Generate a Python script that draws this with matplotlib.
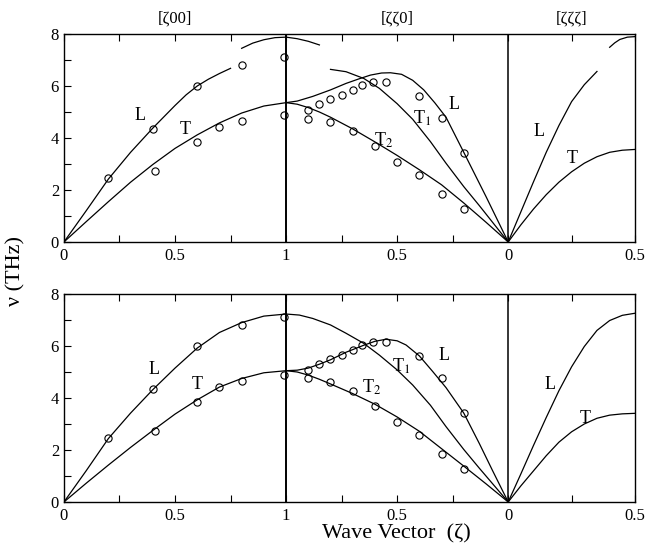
import numpy as np
import matplotlib
matplotlib.use("Agg")
from matplotlib import pyplot as plt

plt.rcParams['font.family'] = ['Liberation Serif', 'DejaVu Serif']
plt.rcParams['mathtext.fontset'] = 'stix'

# x axis: [zeta00] 0->1, [zeta zeta 0] 1->0, [zeta zeta zeta] 0->0.5
K111 = 1.142

# experimental points (same in both panels)
exp100_L_z = [0.2, 0.4, 0.6, 0.8, 0.99]
exp100_L_v = [2.48, 4.36, 5.99, 6.81, 7.12]
exp100_T_z = [0.41, 0.6, 0.7, 0.8, 0.99]
exp100_T_v = [2.72, 3.85, 4.41, 4.66, 4.87]
exp110_L_z = [0.9, 0.85, 0.8, 0.75, 0.7, 0.66, 0.61, 0.55, 0.4, 0.3, 0.2]
exp110_L_v = [5.08, 5.3, 5.49, 5.64, 5.84, 6.05, 6.15, 6.15, 5.63, 4.77, 3.44]
exp110_T2_z = [0.9, 0.8, 0.7, 0.6, 0.5, 0.4, 0.3, 0.2]
exp110_T2_v = [4.75, 4.62, 4.26, 3.69, 3.08, 2.57, 1.86, 1.28]

# ---- top panel, calculated curves ----
top100_L_z = [0, 0.1, 0.2, 0.3, 0.4, 0.5, 0.55, 0.6, 0.65, 0.7, 0.75]
top100_L_v = [0, 1.2, 2.42, 3.45, 4.38, 5.25, 5.66, 6.0, 6.26, 6.48, 6.68]
top100_Lhi_z = [0.8, 0.85, 0.9, 0.95, 1.0]
top100_Lhi_v = [7.45, 7.65, 7.78, 7.86, 7.88]
top110_Lhi_z = [1.0, 0.95, 0.9, 0.85]
top110_Lhi_v = [7.88, 7.82, 7.72, 7.58]
top100_T_z = [0, 0.1, 0.2, 0.3, 0.4, 0.5, 0.6, 0.7, 0.8, 0.9, 1.0]
top100_T_v = [0, 0.78, 1.55, 2.3, 2.98, 3.6, 4.12, 4.58, 4.96, 5.23, 5.36]
top110_L_z = [1, 0.95, 0.88, 0.8, 0.73, 0.67, 0.62, 0.57, 0.53, 0.48, 0.43, 0.38, 0.33, 0.28, 0.2, 0.1, 0]
top110_L_v = [5.36, 5.42, 5.6, 5.85, 6.1, 6.28, 6.42, 6.5, 6.51, 6.45, 6.22, 5.85, 5.35, 4.8, 3.45, 1.75, 0]
top110_T1_z = [0.8, 0.73, 0.65, 0.58, 0.5, 0.43, 0.35, 0.28, 0.2, 0.13, 0]
top110_T1_v = [6.64, 6.55, 6.29, 5.91, 5.32, 4.72, 3.86, 3.03, 2.13, 1.4, 0]
top110_T2_z = [1, 0.95, 0.9, 0.85, 0.8, 0.7, 0.6, 0.5, 0.4, 0.3, 0.2, 0.1, 0]
top110_T2_v = [5.36, 5.3, 5.17, 5.0, 4.8, 4.35, 3.85, 3.33, 2.78, 2.2, 1.5, 0.76, 0]
top111_L_z = [0, 0.05, 0.1, 0.15, 0.2, 0.25, 0.3, 0.35]
top111_L_v = [0, 1.16, 2.32, 3.45, 4.48, 5.4, 6.05, 6.56]
top111_Lhi_z = [0.4, 0.42, 0.44, 0.47, 0.5]
top111_Lhi_v = [7.49, 7.66, 7.79, 7.88, 7.9]
top111_T_z = [0, 0.05, 0.1, 0.15, 0.2, 0.25, 0.3, 0.35, 0.4, 0.45, 0.5]
top111_T_v = [0, 0.66, 1.27, 1.82, 2.3, 2.7, 3.03, 3.28, 3.45, 3.53, 3.56]

# ---- bottom panel, calculated curves ----
bot100_L_z = [0, 0.1, 0.2, 0.3, 0.4, 0.5, 0.6, 0.7, 0.8, 0.9, 1.0]
bot100_L_v = [0, 1.2, 2.44, 3.42, 4.32, 5.15, 5.92, 6.52, 6.9, 7.15, 7.23]
bot100_T_z = [0, 0.1, 0.2, 0.3, 0.4, 0.5, 0.6, 0.7, 0.8, 0.9, 1.0]
bot100_T_v = [0, 0.72, 1.42, 2.1, 2.75, 3.38, 3.93, 4.42, 4.75, 4.97, 5.05]
bot110_T1_z = [1, 0.94, 0.88, 0.8, 0.73, 0.65, 0.58, 0.5, 0.43, 0.35, 0.28, 0.2, 0.13, 0]
bot110_T1_v = [7.23, 7.19, 7.06, 6.81, 6.49, 6.10, 5.65, 5.08, 4.5, 3.72, 2.9, 2.02, 1.3, 0]
bot110_L_z = [1, 0.95, 0.9, 0.85, 0.8, 0.73, 0.65, 0.6, 0.55, 0.5, 0.46, 0.4, 0.34, 0.28, 0.2, 0.13, 0.07, 0]
bot110_L_v = [5.05, 5.07, 5.15, 5.3, 5.47, 5.76, 6.03, 6.18, 6.26, 6.2, 6.04, 5.62, 5.02, 4.4, 3.42, 2.25, 1.2, 0]
bot110_T2_z = [1, 0.95, 0.9, 0.85, 0.8, 0.7, 0.6, 0.5, 0.4, 0.3, 0.2, 0.1, 0]
bot110_T2_v = [5.05, 5.0, 4.88, 4.72, 4.54, 4.17, 3.76, 3.27, 2.72, 2.05, 1.38, 0.7, 0]
bot111_L_z = [0, 0.05, 0.1, 0.15, 0.2, 0.25, 0.3, 0.35, 0.4, 0.45, 0.5]
bot111_L_v = [0, 1.08, 2.18, 3.25, 4.28, 5.2, 5.98, 6.6, 6.98, 7.18, 7.26]
bot111_T_z = [0, 0.05, 0.1, 0.15, 0.2, 0.25, 0.3, 0.35, 0.4, 0.45, 0.5]
bot111_T_v = [0, 0.62, 1.2, 1.78, 2.3, 2.7, 3.0, 3.22, 3.34, 3.39, 3.41]

dir_labels = ['[ζ00]', '[ζζ0]', '[ζζζ]']
xtick_labels = ['0', '0.5', '1', '0.5', '0', '0.5']

# branch labels: (text, segment, zeta, v)
top_labels = [('L', 0, 0.344, 4.88), ('T', 0, 0.547, 4.31),
              ('L', 1, 0.246, 5.27), ('T$_1$', 1, 0.389, 4.76), ('T$_2$', 1, 0.562, 3.92),
              ('L', 2, 0.123, 4.24), ('T', 2, 0.254, 3.22)]
bot_labels = [('L', 0, 0.404, 5.08), ('T', 0, 0.6, 4.5),
              ('L', 1, 0.291, 5.65), ('T$_1$', 1, 0.48, 5.2), ('T$_2$', 1, 0.614, 4.43),
              ('L', 2, 0.165, 4.5), ('T', 2, 0.303, 3.22)]


def pos(seg, z):
    z = np.asarray(z, dtype=float)
    if seg == 0:
        return z
    if seg == 1:
        return 2 - z
    return 2 + K111 * z


def curve(ax, seg, z, v):
    ax.plot(pos(seg, z), v, color='black', lw=0.9)


def points(ax, seg, z, v):
    ax.plot(pos(seg, z), v, 'o', ms=5.2, mfc='none', mec='black', mew=0.8)


def setup(ax):
    xmax = pos(2, 0.5)
    ax.set_xlim(0, xmax)
    ax.set_ylim(0, 8)
    ax.axvline(1, color='black', lw=1.4)
    ax.axvline(2, color='black', lw=1.1)
    ax.set_xticks([0, 0.5, 1, 1.5, 2, xmax])
    ax.set_xticklabels(xtick_labels)
    ax.set_xticks([0.25, 0.75, 1.25, 1.75, pos(2, 0.25)], minor=True)
    ax.set_yticks([0, 2, 4, 6, 8])
    ax.set_yticks([1, 3, 5, 7], minor=True)
    ax.tick_params(which='both', direction='in', top=True, right=False,
                   length=5, width=0.8, labelsize=12)
    ax.tick_params(axis='x', pad=4)
    for s in ax.spines.values():
        s.set_linewidth(1.0)


fig = plt.figure(figsize=(6.46, 5.54), dpi=100)
ax1 = fig.add_axes([0.099, 0.5632, 0.884, 0.3754])
ax2 = fig.add_axes([0.099, 0.0939, 0.884, 0.3754])

# top panel
curve(ax1, 0, top100_L_z, top100_L_v)
curve(ax1, 0, top100_Lhi_z, top100_Lhi_v)
curve(ax1, 1, top110_Lhi_z, top110_Lhi_v)
curve(ax1, 0, top100_T_z, top100_T_v)
curve(ax1, 1, top110_L_z, top110_L_v)
curve(ax1, 1, top110_T1_z, top110_T1_v)
curve(ax1, 1, top110_T2_z, top110_T2_v)
curve(ax1, 2, top111_L_z, top111_L_v)
curve(ax1, 2, top111_Lhi_z, top111_Lhi_v)
curve(ax1, 2, top111_T_z, top111_T_v)

# bottom panel
curve(ax2, 0, bot100_L_z, bot100_L_v)
curve(ax2, 0, bot100_T_z, bot100_T_v)
curve(ax2, 1, bot110_T1_z, bot110_T1_v)
curve(ax2, 1, bot110_L_z, bot110_L_v)
curve(ax2, 1, bot110_T2_z, bot110_T2_v)
curve(ax2, 2, bot111_L_z, bot111_L_v)
curve(ax2, 2, bot111_T_z, bot111_T_v)

for ax, labels in ((ax1, top_labels), (ax2, bot_labels)):
    points(ax, 0, exp100_L_z, exp100_L_v)
    points(ax, 0, exp100_T_z, exp100_T_v)
    points(ax, 1, exp110_L_z, exp110_L_v)
    points(ax, 1, exp110_T2_z, exp110_T2_v)
    for txt, seg, z, v in labels:
        ax.text(pos(seg, z), v, txt, fontsize=13, ha='center', va='center')
    setup(ax)

for i, lab in enumerate(dir_labels):
    xc = [0.5, 1.5, pos(2, 0.25)][i]
    ax1.text(xc, 1.035, lab, transform=ax1.get_xaxis_transform(),
             ha='center', va='bottom', fontsize=12)

fig.text(0.025, 0.511, 'ν (THz)', rotation=90, ha='center', va='center', fontsize=16)
fig.text(0.613, 0.036, 'Wave Vector  (ζ)', ha='center', va='center', fontsize=16)

fig.savefig('out.png', dpi=100)
